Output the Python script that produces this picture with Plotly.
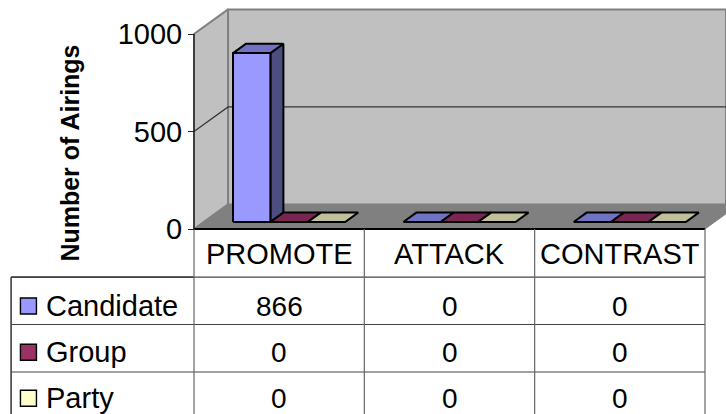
import plotly.graph_objects as go

# Chart data
categories = ["PROMOTE", "ATTACK", "CONTRAST"]
series_names = ["Candidate", "Group", "Party"]
candidate = [866, 0, 0]
group = [0, 0, 0]
party = [0, 0, 0]
y_ticks = [0, 500, 1000]
y_title = "Number of Airings"

# Colours per series: front, top, side
front_colors = ["#9999FF", "#993366", "#FFFFCC"]
top_colors = ["#7272C4", "#7A2652", "#BFBF9C"]
side_colors = ["#4D4D80", "#4D1A33", "#808066"]
WALL = "#C0C0C0"
FLOOR = "#808080"
FONT = "Liberation Sans"

# Axis scale: one category is 170.3 px wide, 1000 units are 195 px tall
W, H = 726, 414
PX_X = 170.33
PX_Y = 0.195
X0_PX, Y0_PX = 194, 229
x_range = [-X0_PX / PX_X, (W - X0_PX) / PX_X]
y_range = [-(H - Y0_PX) / PX_Y, Y0_PX / PX_Y]

# Oblique projection offsets in data units
WALL_DX, WALL_DY = 0.2, 126
BAR_DX, BAR_DY = 0.0763, 48
BAR_LIFT = 36
BAR_START = 0.229
BAR_W = 0.2195
Y_TOP = 1000
X_END = 3

# Table rows, in data units below the axis
ROW_LINES = [-247, -490, -733]
ROW_TEXT = [-395, -632, -868]
HEADER_TEXT = -127
TABLE_LEFT = -1.074
LABEL_X = -0.88
SWATCH_X = -0.972
TABLE_BOTTOM = y_range[0]

fig = go.Figure()


def poly(xs, ys, fill, line="#000000", width=1.6):
    fig.add_trace(go.Scatter(
        x=list(xs) + [xs[0]], y=list(ys) + [ys[0]], mode="lines",
        fill="toself", fillcolor=fill,
        line=dict(color=line, width=width), hoverinfo="skip", showlegend=False,
    ))


def seg(xs, ys, color="#000000", width=1.2):
    fig.add_trace(go.Scatter(
        x=xs, y=ys, mode="lines", line=dict(color=color, width=width),
        hoverinfo="skip", showlegend=False,
    ))


# Walls and floor
poly([0, WALL_DX, WALL_DX, 0], [0, WALL_DY, Y_TOP + WALL_DY, Y_TOP], WALL, "#808080", 2)
poly([WALL_DX, x_range[1], x_range[1], WALL_DX],
     [WALL_DY, WALL_DY, Y_TOP + WALL_DY, Y_TOP + WALL_DY], WALL, "#808080", 2)
poly([0, WALL_DX, X_END + WALL_DX, X_END], [0, WALL_DY, WALL_DY, 0], FLOOR, FLOOR, 1)

# Gridline at 500 across side and back walls
seg([0, WALL_DX, x_range[1]], [500, 500 + WALL_DY, 500 + WALL_DY], "#333333", 1.2)

# Bars
values = [candidate, group, party]
for c in range(len(categories)):
    for s in range(len(series_names)):
        v = values[s][c]
        x1 = c + BAR_START + s * BAR_W
        x2 = x1 + BAR_W
        y1 = BAR_LIFT
        y2 = BAR_LIFT + v
        if v > 0:
            poly([x2, x2 + BAR_DX, x2 + BAR_DX, x2],
                 [y1, y1 + BAR_DY, y2 + BAR_DY, y2], side_colors[s], width=2)
            poly([x1, x2, x2, x1], [y1, y1, y2, y2], front_colors[s], width=2)
        poly([x1, x2, x2 + BAR_DX, x1 + BAR_DX],
             [y2, y2, y2 + BAR_DY, y2 + BAR_DY], top_colors[s], width=2)

# Axis and table rules
seg([0, 0], [0, Y_TOP], "#222222", 1.4)
seg([0, X_END], [0, 0], "#000000", 1.8)
seg([TABLE_LEFT, 0], [ROW_LINES[0], ROW_LINES[0]], "#000000", 1.2)
seg([TABLE_LEFT, TABLE_LEFT], [ROW_LINES[0], TABLE_BOTTOM], "#000000", 1.2)
for r in ROW_LINES:
    seg([TABLE_LEFT, X_END], [r, r], "#444444", 1.1)
for c in range(X_END + 1):
    seg([c, c], [0, TABLE_BOTTOM], "#666666", 1.2)

# Legend keys in the first table column
for s in range(len(series_names)):
    fig.add_trace(go.Scatter(
        x=[SWATCH_X], y=[ROW_TEXT[s]], mode="markers",
        marker=dict(symbol="square", size=16, color=front_colors[s],
                    line=dict(color="#000000", width=1.4)),
        hoverinfo="skip", showlegend=False,
    ))

annotations = []


def label(x, y, text, size=28, anchor="center", **kw):
    annotations.append(dict(
        x=x, y=y, xref="x", yref="y", text=text, showarrow=False,
        xanchor=anchor, yanchor="middle",
        font=dict(family=FONT, size=size, color="#000000"), **kw))


for c, name in enumerate(categories):
    label(c + 0.5, HEADER_TEXT, name, size=29)
for s, name in enumerate(series_names):
    label(LABEL_X, ROW_TEXT[s], name, size=29, anchor="left")
    for c in range(len(categories)):
        label(c + 0.5, ROW_TEXT[s], str(values[s][c]))
label(-0.73, 390, f"<b>{y_title}</b>", size=25, textangle=-90)

fig.update_layout(
    width=W, height=H, margin=dict(l=0, r=0, t=0, b=0),
    paper_bgcolor="#FFFFFF", plot_bgcolor="#FFFFFF", showlegend=False,
    annotations=annotations,
    xaxis=dict(range=x_range, visible=False, fixedrange=True),
    yaxis=dict(
        range=y_range, anchor="free", position=X0_PX / W, side="left",
        tickmode="array", tickvals=y_ticks, ticktext=[str(t) for t in y_ticks],
        ticks="outside", ticklen=6, tickwidth=1.4, tickcolor="#222222",
        tickfont=dict(family=FONT, size=29, color="#000000"),
        showgrid=False, zeroline=False, showline=False, fixedrange=True,
    ),
)

fig.write_html("out.html", config={"displayModeBar": False})
